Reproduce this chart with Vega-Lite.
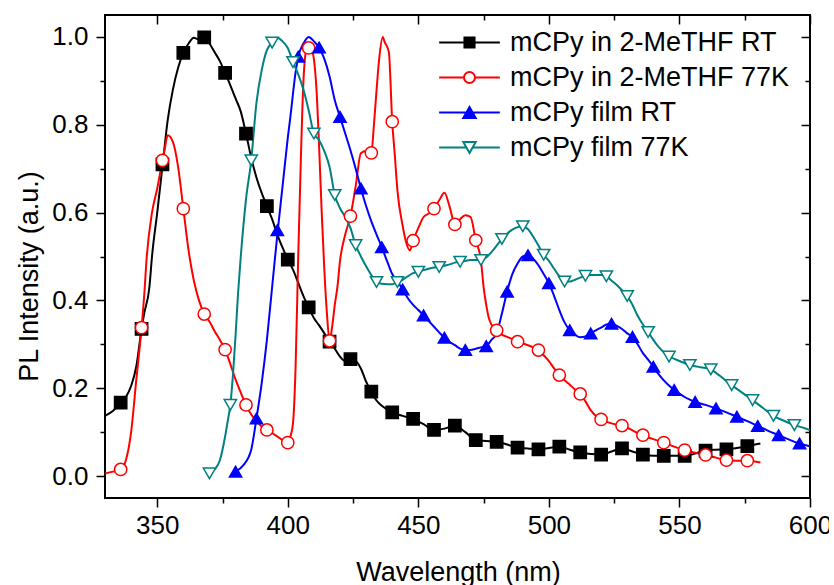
{
  "$schema": "https://vega.github.io/schema/vega-lite/v6.json",
  "width": 705,
  "height": 483,
  "autosize": {"type": "none"},
  "padding": {"left": 105, "top": 15, "right": 19, "bottom": 87},
  "background": "white",
  "datasets": {
    "curves": [
      {"series":"mCPy in 2-MeTHF RT","nm":330,"pl":0.137},{"series":"mCPy in 2-MeTHF RT","nm":333,"pl":0.148},{"series":"mCPy in 2-MeTHF RT","nm":336,"pl":0.167},{"series":"mCPy in 2-MeTHF RT","nm":338,"pl":0.18},{"series":"mCPy in 2-MeTHF RT","nm":340,"pl":0.205},{"series":"mCPy in 2-MeTHF RT","nm":342,"pl":0.25},{"series":"mCPy in 2-MeTHF RT","nm":344,"pl":0.335},{"series":"mCPy in 2-MeTHF RT","nm":345,"pl":0.37},{"series":"mCPy in 2-MeTHF RT","nm":347,"pl":0.43},{"series":"mCPy in 2-MeTHF RT","nm":348,"pl":0.5},{"series":"mCPy in 2-MeTHF RT","nm":350,"pl":0.6},{"series":"mCPy in 2-MeTHF RT","nm":352,"pl":0.705},{"series":"mCPy in 2-MeTHF RT","nm":354,"pl":0.81},{"series":"mCPy in 2-MeTHF RT","nm":356,"pl":0.88},{"series":"mCPy in 2-MeTHF RT","nm":358,"pl":0.93},{"series":"mCPy in 2-MeTHF RT","nm":360,"pl":0.964},{"series":"mCPy in 2-MeTHF RT","nm":362,"pl":0.985},{"series":"mCPy in 2-MeTHF RT","nm":364,"pl":0.998},{"series":"mCPy in 2-MeTHF RT","nm":366,"pl":0.994},{"series":"mCPy in 2-MeTHF RT","nm":368,"pl":0.999},{"series":"mCPy in 2-MeTHF RT","nm":370,"pl":0.985},{"series":"mCPy in 2-MeTHF RT","nm":372,"pl":0.965},{"series":"mCPy in 2-MeTHF RT","nm":374,"pl":0.945},{"series":"mCPy in 2-MeTHF RT","nm":376,"pl":0.918},{"series":"mCPy in 2-MeTHF RT","nm":378,"pl":0.89},{"series":"mCPy in 2-MeTHF RT","nm":380,"pl":0.86},{"series":"mCPy in 2-MeTHF RT","nm":382,"pl":0.83},{"series":"mCPy in 2-MeTHF RT","nm":384,"pl":0.78},{"series":"mCPy in 2-MeTHF RT","nm":386,"pl":0.725},{"series":"mCPy in 2-MeTHF RT","nm":388,"pl":0.68},{"series":"mCPy in 2-MeTHF RT","nm":390,"pl":0.645},{"series":"mCPy in 2-MeTHF RT","nm":392,"pl":0.615},{"series":"mCPy in 2-MeTHF RT","nm":394,"pl":0.585},{"series":"mCPy in 2-MeTHF RT","nm":396,"pl":0.55},{"series":"mCPy in 2-MeTHF RT","nm":398,"pl":0.52},{"series":"mCPy in 2-MeTHF RT","nm":400,"pl":0.493},{"series":"mCPy in 2-MeTHF RT","nm":402,"pl":0.47},{"series":"mCPy in 2-MeTHF RT","nm":404,"pl":0.44},{"series":"mCPy in 2-MeTHF RT","nm":406,"pl":0.41},{"series":"mCPy in 2-MeTHF RT","nm":408,"pl":0.384},{"series":"mCPy in 2-MeTHF RT","nm":410,"pl":0.36},{"series":"mCPy in 2-MeTHF RT","nm":412,"pl":0.343},{"series":"mCPy in 2-MeTHF RT","nm":414,"pl":0.325},{"series":"mCPy in 2-MeTHF RT","nm":416,"pl":0.306},{"series":"mCPy in 2-MeTHF RT","nm":418,"pl":0.29},{"series":"mCPy in 2-MeTHF RT","nm":420,"pl":0.272},{"series":"mCPy in 2-MeTHF RT","nm":422,"pl":0.262},{"series":"mCPy in 2-MeTHF RT","nm":424,"pl":0.266},{"series":"mCPy in 2-MeTHF RT","nm":426,"pl":0.262},{"series":"mCPy in 2-MeTHF RT","nm":428,"pl":0.245},{"series":"mCPy in 2-MeTHF RT","nm":430,"pl":0.215},{"series":"mCPy in 2-MeTHF RT","nm":432,"pl":0.192},{"series":"mCPy in 2-MeTHF RT","nm":434,"pl":0.172},{"series":"mCPy in 2-MeTHF RT","nm":436,"pl":0.16},{"series":"mCPy in 2-MeTHF RT","nm":438,"pl":0.152},{"series":"mCPy in 2-MeTHF RT","nm":440,"pl":0.145},{"series":"mCPy in 2-MeTHF RT","nm":444,"pl":0.137},{"series":"mCPy in 2-MeTHF RT","nm":448,"pl":0.13},{"series":"mCPy in 2-MeTHF RT","nm":452,"pl":0.118},{"series":"mCPy in 2-MeTHF RT","nm":456,"pl":0.105},{"series":"mCPy in 2-MeTHF RT","nm":460,"pl":0.108},{"series":"mCPy in 2-MeTHF RT","nm":464,"pl":0.115},{"series":"mCPy in 2-MeTHF RT","nm":468,"pl":0.1},{"series":"mCPy in 2-MeTHF RT","nm":472,"pl":0.082},{"series":"mCPy in 2-MeTHF RT","nm":476,"pl":0.08},{"series":"mCPy in 2-MeTHF RT","nm":480,"pl":0.078},{"series":"mCPy in 2-MeTHF RT","nm":484,"pl":0.072},{"series":"mCPy in 2-MeTHF RT","nm":488,"pl":0.065},{"series":"mCPy in 2-MeTHF RT","nm":492,"pl":0.063},{"series":"mCPy in 2-MeTHF RT","nm":496,"pl":0.061},{"series":"mCPy in 2-MeTHF RT","nm":500,"pl":0.064},{"series":"mCPy in 2-MeTHF RT","nm":504,"pl":0.067},{"series":"mCPy in 2-MeTHF RT","nm":508,"pl":0.06},{"series":"mCPy in 2-MeTHF RT","nm":512,"pl":0.054},{"series":"mCPy in 2-MeTHF RT","nm":516,"pl":0.05},{"series":"mCPy in 2-MeTHF RT","nm":520,"pl":0.049},{"series":"mCPy in 2-MeTHF RT","nm":524,"pl":0.056},{"series":"mCPy in 2-MeTHF RT","nm":528,"pl":0.063},{"series":"mCPy in 2-MeTHF RT","nm":532,"pl":0.056},{"series":"mCPy in 2-MeTHF RT","nm":536,"pl":0.049},{"series":"mCPy in 2-MeTHF RT","nm":540,"pl":0.046},{"series":"mCPy in 2-MeTHF RT","nm":544,"pl":0.046},{"series":"mCPy in 2-MeTHF RT","nm":548,"pl":0.046},{"series":"mCPy in 2-MeTHF RT","nm":552,"pl":0.046},{"series":"mCPy in 2-MeTHF RT","nm":556,"pl":0.051},{"series":"mCPy in 2-MeTHF RT","nm":560,"pl":0.058},{"series":"mCPy in 2-MeTHF RT","nm":564,"pl":0.06},{"series":"mCPy in 2-MeTHF RT","nm":568,"pl":0.061},{"series":"mCPy in 2-MeTHF RT","nm":572,"pl":0.064},{"series":"mCPy in 2-MeTHF RT","nm":576,"pl":0.068},{"series":"mCPy in 2-MeTHF RT","nm":581,"pl":0.074},

      {"series":"mCPy in 2-MeTHF 77K","nm":330,"pl":0.006},{"series":"mCPy in 2-MeTHF 77K","nm":333,"pl":0.01},{"series":"mCPy in 2-MeTHF 77K","nm":336,"pl":0.015},{"series":"mCPy in 2-MeTHF 77K","nm":338,"pl":0.036},{"series":"mCPy in 2-MeTHF 77K","nm":340,"pl":0.1},{"series":"mCPy in 2-MeTHF 77K","nm":342,"pl":0.22},{"series":"mCPy in 2-MeTHF 77K","nm":344,"pl":0.338},{"series":"mCPy in 2-MeTHF 77K","nm":345,"pl":0.41},{"series":"mCPy in 2-MeTHF 77K","nm":346,"pl":0.5},{"series":"mCPy in 2-MeTHF 77K","nm":348,"pl":0.6},{"series":"mCPy in 2-MeTHF 77K","nm":350,"pl":0.655},{"series":"mCPy in 2-MeTHF 77K","nm":352,"pl":0.719},{"series":"mCPy in 2-MeTHF 77K","nm":353,"pl":0.75},{"series":"mCPy in 2-MeTHF 77K","nm":354,"pl":0.776},{"series":"mCPy in 2-MeTHF 77K","nm":356,"pl":0.761},{"series":"mCPy in 2-MeTHF 77K","nm":358,"pl":0.704},{"series":"mCPy in 2-MeTHF 77K","nm":360,"pl":0.609},{"series":"mCPy in 2-MeTHF 77K","nm":362,"pl":0.514},{"series":"mCPy in 2-MeTHF 77K","nm":364,"pl":0.446},{"series":"mCPy in 2-MeTHF 77K","nm":366,"pl":0.4},{"series":"mCPy in 2-MeTHF 77K","nm":368,"pl":0.369},{"series":"mCPy in 2-MeTHF 77K","nm":370,"pl":0.352},{"series":"mCPy in 2-MeTHF 77K","nm":372,"pl":0.33},{"series":"mCPy in 2-MeTHF 77K","nm":374,"pl":0.31},{"series":"mCPy in 2-MeTHF 77K","nm":376,"pl":0.288},{"series":"mCPy in 2-MeTHF 77K","nm":378,"pl":0.255},{"series":"mCPy in 2-MeTHF 77K","nm":380,"pl":0.22},{"series":"mCPy in 2-MeTHF 77K","nm":382,"pl":0.19},{"series":"mCPy in 2-MeTHF 77K","nm":384,"pl":0.162},{"series":"mCPy in 2-MeTHF 77K","nm":386,"pl":0.14},{"series":"mCPy in 2-MeTHF 77K","nm":388,"pl":0.125},{"series":"mCPy in 2-MeTHF 77K","nm":390,"pl":0.113},{"series":"mCPy in 2-MeTHF 77K","nm":392,"pl":0.105},{"series":"mCPy in 2-MeTHF 77K","nm":394,"pl":0.098},{"series":"mCPy in 2-MeTHF 77K","nm":396,"pl":0.09},{"series":"mCPy in 2-MeTHF 77K","nm":398,"pl":0.082},{"series":"mCPy in 2-MeTHF 77K","nm":400,"pl":0.076},{"series":"mCPy in 2-MeTHF 77K","nm":401,"pl":0.09},{"series":"mCPy in 2-MeTHF 77K","nm":402,"pl":0.12},{"series":"mCPy in 2-MeTHF 77K","nm":403,"pl":0.25},{"series":"mCPy in 2-MeTHF 77K","nm":404,"pl":0.5},{"series":"mCPy in 2-MeTHF 77K","nm":405,"pl":0.72},{"series":"mCPy in 2-MeTHF 77K","nm":406,"pl":0.9},{"series":"mCPy in 2-MeTHF 77K","nm":407,"pl":0.97},{"series":"mCPy in 2-MeTHF 77K","nm":408,"pl":0.985},{"series":"mCPy in 2-MeTHF 77K","nm":409,"pl":0.975},{"series":"mCPy in 2-MeTHF 77K","nm":410,"pl":0.95},{"series":"mCPy in 2-MeTHF 77K","nm":411,"pl":0.88},{"series":"mCPy in 2-MeTHF 77K","nm":412,"pl":0.75},{"series":"mCPy in 2-MeTHF 77K","nm":413,"pl":0.6},{"series":"mCPy in 2-MeTHF 77K","nm":414,"pl":0.47},{"series":"mCPy in 2-MeTHF 77K","nm":415,"pl":0.37},{"series":"mCPy in 2-MeTHF 77K","nm":416,"pl":0.308},{"series":"mCPy in 2-MeTHF 77K","nm":417,"pl":0.34},{"series":"mCPy in 2-MeTHF 77K","nm":418,"pl":0.39},{"series":"mCPy in 2-MeTHF 77K","nm":419,"pl":0.43},{"series":"mCPy in 2-MeTHF 77K","nm":420,"pl":0.49},{"series":"mCPy in 2-MeTHF 77K","nm":422,"pl":0.55},{"series":"mCPy in 2-MeTHF 77K","nm":424,"pl":0.592},{"series":"mCPy in 2-MeTHF 77K","nm":426,"pl":0.66},{"series":"mCPy in 2-MeTHF 77K","nm":428,"pl":0.735},{"series":"mCPy in 2-MeTHF 77K","nm":430,"pl":0.74},{"series":"mCPy in 2-MeTHF 77K","nm":432,"pl":0.736},{"series":"mCPy in 2-MeTHF 77K","nm":433,"pl":0.8},{"series":"mCPy in 2-MeTHF 77K","nm":434,"pl":0.879},{"series":"mCPy in 2-MeTHF 77K","nm":435,"pl":0.95},{"series":"mCPy in 2-MeTHF 77K","nm":436.4,"pl":1.0},{"series":"mCPy in 2-MeTHF 77K","nm":437,"pl":0.99},{"series":"mCPy in 2-MeTHF 77K","nm":438.7,"pl":0.966},{"series":"mCPy in 2-MeTHF 77K","nm":440,"pl":0.807},{"series":"mCPy in 2-MeTHF 77K","nm":441,"pl":0.73},{"series":"mCPy in 2-MeTHF 77K","nm":442,"pl":0.65},{"series":"mCPy in 2-MeTHF 77K","nm":444,"pl":0.57},{"series":"mCPy in 2-MeTHF 77K","nm":445,"pl":0.54},{"series":"mCPy in 2-MeTHF 77K","nm":446.8,"pl":0.514},{"series":"mCPy in 2-MeTHF 77K","nm":448,"pl":0.536},{"series":"mCPy in 2-MeTHF 77K","nm":450,"pl":0.565},{"series":"mCPy in 2-MeTHF 77K","nm":452,"pl":0.59},{"series":"mCPy in 2-MeTHF 77K","nm":454,"pl":0.598},{"series":"mCPy in 2-MeTHF 77K","nm":456,"pl":0.609},{"series":"mCPy in 2-MeTHF 77K","nm":458,"pl":0.628},{"series":"mCPy in 2-MeTHF 77K","nm":460,"pl":0.645},{"series":"mCPy in 2-MeTHF 77K","nm":462,"pl":0.613},{"series":"mCPy in 2-MeTHF 77K","nm":464,"pl":0.573},{"series":"mCPy in 2-MeTHF 77K","nm":466,"pl":0.585},{"series":"mCPy in 2-MeTHF 77K","nm":468,"pl":0.594},{"series":"mCPy in 2-MeTHF 77K","nm":470,"pl":0.59},{"series":"mCPy in 2-MeTHF 77K","nm":472,"pl":0.537},{"series":"mCPy in 2-MeTHF 77K","nm":474,"pl":0.49},{"series":"mCPy in 2-MeTHF 77K","nm":475,"pl":0.43},{"series":"mCPy in 2-MeTHF 77K","nm":476,"pl":0.39},{"series":"mCPy in 2-MeTHF 77K","nm":477,"pl":0.36},{"series":"mCPy in 2-MeTHF 77K","nm":478,"pl":0.345},{"series":"mCPy in 2-MeTHF 77K","nm":480,"pl":0.332},{"series":"mCPy in 2-MeTHF 77K","nm":482,"pl":0.322},{"series":"mCPy in 2-MeTHF 77K","nm":484,"pl":0.317},{"series":"mCPy in 2-MeTHF 77K","nm":486,"pl":0.312},{"series":"mCPy in 2-MeTHF 77K","nm":488,"pl":0.306},{"series":"mCPy in 2-MeTHF 77K","nm":490,"pl":0.302},{"series":"mCPy in 2-MeTHF 77K","nm":492,"pl":0.298},{"series":"mCPy in 2-MeTHF 77K","nm":494,"pl":0.293},{"series":"mCPy in 2-MeTHF 77K","nm":496,"pl":0.287},{"series":"mCPy in 2-MeTHF 77K","nm":498,"pl":0.275},{"series":"mCPy in 2-MeTHF 77K","nm":500,"pl":0.262},{"series":"mCPy in 2-MeTHF 77K","nm":502,"pl":0.245},{"series":"mCPy in 2-MeTHF 77K","nm":504,"pl":0.23},{"series":"mCPy in 2-MeTHF 77K","nm":506,"pl":0.218},{"series":"mCPy in 2-MeTHF 77K","nm":508,"pl":0.208},{"series":"mCPy in 2-MeTHF 77K","nm":510,"pl":0.197},{"series":"mCPy in 2-MeTHF 77K","nm":512,"pl":0.187},{"series":"mCPy in 2-MeTHF 77K","nm":514,"pl":0.17},{"series":"mCPy in 2-MeTHF 77K","nm":516,"pl":0.15},{"series":"mCPy in 2-MeTHF 77K","nm":518,"pl":0.137},{"series":"mCPy in 2-MeTHF 77K","nm":520,"pl":0.129},{"series":"mCPy in 2-MeTHF 77K","nm":522,"pl":0.124},{"series":"mCPy in 2-MeTHF 77K","nm":524,"pl":0.12},{"series":"mCPy in 2-MeTHF 77K","nm":526,"pl":0.117},{"series":"mCPy in 2-MeTHF 77K","nm":528,"pl":0.115},{"series":"mCPy in 2-MeTHF 77K","nm":530,"pl":0.11},{"series":"mCPy in 2-MeTHF 77K","nm":532,"pl":0.104},{"series":"mCPy in 2-MeTHF 77K","nm":534,"pl":0.098},{"series":"mCPy in 2-MeTHF 77K","nm":536,"pl":0.093},{"series":"mCPy in 2-MeTHF 77K","nm":540,"pl":0.084},{"series":"mCPy in 2-MeTHF 77K","nm":544,"pl":0.076},{"series":"mCPy in 2-MeTHF 77K","nm":548,"pl":0.067},{"series":"mCPy in 2-MeTHF 77K","nm":552,"pl":0.059},{"series":"mCPy in 2-MeTHF 77K","nm":556,"pl":0.053},{"series":"mCPy in 2-MeTHF 77K","nm":560,"pl":0.048},{"series":"mCPy in 2-MeTHF 77K","nm":564,"pl":0.042},{"series":"mCPy in 2-MeTHF 77K","nm":568,"pl":0.036},{"series":"mCPy in 2-MeTHF 77K","nm":572,"pl":0.035},{"series":"mCPy in 2-MeTHF 77K","nm":576,"pl":0.035},{"series":"mCPy in 2-MeTHF 77K","nm":581,"pl":0.031},

      {"series":"mCPy film RT","nm":380,"pl":0.01},{"series":"mCPy film RT","nm":383,"pl":0.025},{"series":"mCPy film RT","nm":386,"pl":0.06},{"series":"mCPy film RT","nm":388,"pl":0.131},{"series":"mCPy film RT","nm":390,"pl":0.211},{"series":"mCPy film RT","nm":392,"pl":0.31},{"series":"mCPy film RT","nm":394,"pl":0.43},{"series":"mCPy film RT","nm":396,"pl":0.55},{"series":"mCPy film RT","nm":398,"pl":0.66},{"series":"mCPy film RT","nm":400,"pl":0.77},{"series":"mCPy film RT","nm":401,"pl":0.818},{"series":"mCPy film RT","nm":403,"pl":0.92},{"series":"mCPy film RT","nm":404,"pl":0.955},{"series":"mCPy film RT","nm":406,"pl":0.985},{"series":"mCPy film RT","nm":408,"pl":1.0},{"series":"mCPy film RT","nm":410,"pl":0.99},{"series":"mCPy film RT","nm":412,"pl":0.976},{"series":"mCPy film RT","nm":414,"pl":0.95},{"series":"mCPy film RT","nm":416,"pl":0.91},{"series":"mCPy film RT","nm":418,"pl":0.856},{"series":"mCPy film RT","nm":420,"pl":0.818},{"series":"mCPy film RT","nm":422,"pl":0.78},{"series":"mCPy film RT","nm":424,"pl":0.742},{"series":"mCPy film RT","nm":426,"pl":0.7},{"series":"mCPy film RT","nm":428,"pl":0.655},{"series":"mCPy film RT","nm":430,"pl":0.615},{"series":"mCPy film RT","nm":432,"pl":0.58},{"series":"mCPy film RT","nm":434,"pl":0.55},{"series":"mCPy film RT","nm":436,"pl":0.521},{"series":"mCPy film RT","nm":438,"pl":0.49},{"series":"mCPy film RT","nm":440,"pl":0.46},{"series":"mCPy film RT","nm":442,"pl":0.443},{"series":"mCPy film RT","nm":444,"pl":0.425},{"series":"mCPy film RT","nm":446,"pl":0.405},{"series":"mCPy film RT","nm":448,"pl":0.39},{"series":"mCPy film RT","nm":450,"pl":0.378},{"series":"mCPy film RT","nm":452,"pl":0.366},{"series":"mCPy film RT","nm":454,"pl":0.353},{"series":"mCPy film RT","nm":456,"pl":0.34},{"series":"mCPy film RT","nm":458,"pl":0.327},{"series":"mCPy film RT","nm":460,"pl":0.315},{"series":"mCPy film RT","nm":462,"pl":0.305},{"series":"mCPy film RT","nm":464,"pl":0.298},{"series":"mCPy film RT","nm":466,"pl":0.29},{"series":"mCPy film RT","nm":468,"pl":0.287},{"series":"mCPy film RT","nm":470,"pl":0.287},{"series":"mCPy film RT","nm":472,"pl":0.29},{"series":"mCPy film RT","nm":474,"pl":0.293},{"series":"mCPy film RT","nm":476,"pl":0.296},{"series":"mCPy film RT","nm":478,"pl":0.31},{"series":"mCPy film RT","nm":480,"pl":0.325},{"series":"mCPy film RT","nm":482,"pl":0.37},{"series":"mCPy film RT","nm":484,"pl":0.42},{"series":"mCPy film RT","nm":486,"pl":0.46},{"series":"mCPy film RT","nm":488,"pl":0.484},{"series":"mCPy film RT","nm":490,"pl":0.5},{"series":"mCPy film RT","nm":492,"pl":0.503},{"series":"mCPy film RT","nm":494,"pl":0.495},{"series":"mCPy film RT","nm":496,"pl":0.48},{"series":"mCPy film RT","nm":498,"pl":0.46},{"series":"mCPy film RT","nm":500,"pl":0.439},{"series":"mCPy film RT","nm":502,"pl":0.41},{"series":"mCPy film RT","nm":504,"pl":0.378},{"series":"mCPy film RT","nm":506,"pl":0.35},{"series":"mCPy film RT","nm":508,"pl":0.332},{"series":"mCPy film RT","nm":510,"pl":0.322},{"series":"mCPy film RT","nm":512,"pl":0.316},{"series":"mCPy film RT","nm":514,"pl":0.318},{"series":"mCPy film RT","nm":516,"pl":0.325},{"series":"mCPy film RT","nm":518,"pl":0.332},{"series":"mCPy film RT","nm":520,"pl":0.338},{"series":"mCPy film RT","nm":522,"pl":0.345},{"series":"mCPy film RT","nm":524,"pl":0.347},{"series":"mCPy film RT","nm":526,"pl":0.342},{"series":"mCPy film RT","nm":528,"pl":0.335},{"series":"mCPy film RT","nm":530,"pl":0.325},{"series":"mCPy film RT","nm":532,"pl":0.317},{"series":"mCPy film RT","nm":534,"pl":0.3},{"series":"mCPy film RT","nm":536,"pl":0.28},{"series":"mCPy film RT","nm":538,"pl":0.265},{"series":"mCPy film RT","nm":540,"pl":0.249},{"series":"mCPy film RT","nm":542,"pl":0.232},{"series":"mCPy film RT","nm":544,"pl":0.218},{"series":"mCPy film RT","nm":546,"pl":0.206},{"series":"mCPy film RT","nm":548,"pl":0.196},{"series":"mCPy film RT","nm":550,"pl":0.188},{"series":"mCPy film RT","nm":552,"pl":0.18},{"series":"mCPy film RT","nm":554,"pl":0.174},{"series":"mCPy film RT","nm":556,"pl":0.169},{"series":"mCPy film RT","nm":560,"pl":0.162},{"series":"mCPy film RT","nm":564,"pl":0.154},{"series":"mCPy film RT","nm":568,"pl":0.145},{"series":"mCPy film RT","nm":572,"pl":0.135},{"series":"mCPy film RT","nm":576,"pl":0.125},{"series":"mCPy film RT","nm":580,"pl":0.114},{"series":"mCPy film RT","nm":584,"pl":0.103},{"series":"mCPy film RT","nm":588,"pl":0.093},{"series":"mCPy film RT","nm":592,"pl":0.083},{"series":"mCPy film RT","nm":596,"pl":0.074},{"series":"mCPy film RT","nm":600,"pl":0.068},

      {"series":"mCPy film 77K","nm":370,"pl":0.006},{"series":"mCPy film 77K","nm":372,"pl":0.015},{"series":"mCPy film 77K","nm":374,"pl":0.036},{"series":"mCPy film 77K","nm":376,"pl":0.09},{"series":"mCPy film 77K","nm":377,"pl":0.125},{"series":"mCPy film 77K","nm":378,"pl":0.162},{"series":"mCPy film 77K","nm":379,"pl":0.23},{"series":"mCPy film 77K","nm":380,"pl":0.32},{"series":"mCPy film 77K","nm":381,"pl":0.42},{"series":"mCPy film 77K","nm":382,"pl":0.5},{"series":"mCPy film 77K","nm":384,"pl":0.63},{"series":"mCPy film 77K","nm":386,"pl":0.719},{"series":"mCPy film 77K","nm":388,"pl":0.85},{"series":"mCPy film 77K","nm":390,"pl":0.924},{"series":"mCPy film 77K","nm":392,"pl":0.97},{"series":"mCPy film 77K","nm":394,"pl":0.987},{"series":"mCPy film 77K","nm":396,"pl":0.998},{"series":"mCPy film 77K","nm":398,"pl":0.99},{"series":"mCPy film 77K","nm":400,"pl":0.975},{"series":"mCPy film 77K","nm":402,"pl":0.943},{"series":"mCPy film 77K","nm":404,"pl":0.915},{"series":"mCPy film 77K","nm":406,"pl":0.88},{"series":"mCPy film 77K","nm":408,"pl":0.833},{"series":"mCPy film 77K","nm":410,"pl":0.78},{"series":"mCPy film 77K","nm":412,"pl":0.765},{"series":"mCPy film 77K","nm":414,"pl":0.74},{"series":"mCPy film 77K","nm":416,"pl":0.704},{"series":"mCPy film 77K","nm":418,"pl":0.64},{"series":"mCPy film 77K","nm":420,"pl":0.61},{"series":"mCPy film 77K","nm":422,"pl":0.59},{"series":"mCPy film 77K","nm":424,"pl":0.565},{"series":"mCPy film 77K","nm":426,"pl":0.526},{"series":"mCPy film 77K","nm":428,"pl":0.5},{"series":"mCPy film 77K","nm":430,"pl":0.478},{"series":"mCPy film 77K","nm":432,"pl":0.458},{"series":"mCPy film 77K","nm":434,"pl":0.442},{"series":"mCPy film 77K","nm":436,"pl":0.438},{"series":"mCPy film 77K","nm":438,"pl":0.437},{"series":"mCPy film 77K","nm":440,"pl":0.437},{"series":"mCPy film 77K","nm":442,"pl":0.442},{"series":"mCPy film 77K","nm":444,"pl":0.447},{"series":"mCPy film 77K","nm":446,"pl":0.455},{"series":"mCPy film 77K","nm":448,"pl":0.462},{"series":"mCPy film 77K","nm":450,"pl":0.465},{"series":"mCPy film 77K","nm":452,"pl":0.469},{"series":"mCPy film 77K","nm":454,"pl":0.472},{"series":"mCPy film 77K","nm":456,"pl":0.475},{"series":"mCPy film 77K","nm":458,"pl":0.476},{"series":"mCPy film 77K","nm":460,"pl":0.479},{"series":"mCPy film 77K","nm":462,"pl":0.482},{"series":"mCPy film 77K","nm":464,"pl":0.486},{"series":"mCPy film 77K","nm":466,"pl":0.488},{"series":"mCPy film 77K","nm":468,"pl":0.49},{"series":"mCPy film 77K","nm":470,"pl":0.492},{"series":"mCPy film 77K","nm":472,"pl":0.492},{"series":"mCPy film 77K","nm":474,"pl":0.492},{"series":"mCPy film 77K","nm":476,"pl":0.498},{"series":"mCPy film 77K","nm":478,"pl":0.51},{"series":"mCPy film 77K","nm":480,"pl":0.525},{"series":"mCPy film 77K","nm":482,"pl":0.54},{"series":"mCPy film 77K","nm":484,"pl":0.552},{"series":"mCPy film 77K","nm":486,"pl":0.561},{"series":"mCPy film 77K","nm":488,"pl":0.567},{"series":"mCPy film 77K","nm":490,"pl":0.569},{"series":"mCPy film 77K","nm":492,"pl":0.562},{"series":"mCPy film 77K","nm":494,"pl":0.545},{"series":"mCPy film 77K","nm":496,"pl":0.525},{"series":"mCPy film 77K","nm":498,"pl":0.504},{"series":"mCPy film 77K","nm":500,"pl":0.49},{"series":"mCPy film 77K","nm":502,"pl":0.472},{"series":"mCPy film 77K","nm":504,"pl":0.455},{"series":"mCPy film 77K","nm":506,"pl":0.443},{"series":"mCPy film 77K","nm":508,"pl":0.443},{"series":"mCPy film 77K","nm":510,"pl":0.447},{"series":"mCPy film 77K","nm":512,"pl":0.452},{"series":"mCPy film 77K","nm":514,"pl":0.456},{"series":"mCPy film 77K","nm":516,"pl":0.458},{"series":"mCPy film 77K","nm":518,"pl":0.458},{"series":"mCPy film 77K","nm":520,"pl":0.458},{"series":"mCPy film 77K","nm":522,"pl":0.455},{"series":"mCPy film 77K","nm":524,"pl":0.445},{"series":"mCPy film 77K","nm":526,"pl":0.435},{"series":"mCPy film 77K","nm":528,"pl":0.423},{"series":"mCPy film 77K","nm":530,"pl":0.41},{"series":"mCPy film 77K","nm":532,"pl":0.39},{"series":"mCPy film 77K","nm":534,"pl":0.365},{"series":"mCPy film 77K","nm":536,"pl":0.345},{"series":"mCPy film 77K","nm":538,"pl":0.328},{"series":"mCPy film 77K","nm":540,"pl":0.31},{"series":"mCPy film 77K","nm":542,"pl":0.294},{"series":"mCPy film 77K","nm":544,"pl":0.282},{"series":"mCPy film 77K","nm":546,"pl":0.272},{"series":"mCPy film 77K","nm":548,"pl":0.267},{"series":"mCPy film 77K","nm":550,"pl":0.262},{"series":"mCPy film 77K","nm":552,"pl":0.257},{"series":"mCPy film 77K","nm":554,"pl":0.253},{"series":"mCPy film 77K","nm":556,"pl":0.25},{"series":"mCPy film 77K","nm":558,"pl":0.248},{"series":"mCPy film 77K","nm":560,"pl":0.246},{"series":"mCPy film 77K","nm":562,"pl":0.243},{"series":"mCPy film 77K","nm":564,"pl":0.235},{"series":"mCPy film 77K","nm":566,"pl":0.226},{"series":"mCPy film 77K","nm":568,"pl":0.216},{"series":"mCPy film 77K","nm":570,"pl":0.207},{"series":"mCPy film 77K","nm":574,"pl":0.19},{"series":"mCPy film 77K","nm":578,"pl":0.173},{"series":"mCPy film 77K","nm":582,"pl":0.155},{"series":"mCPy film 77K","nm":586,"pl":0.137},{"series":"mCPy film 77K","nm":590,"pl":0.126},{"series":"mCPy film 77K","nm":594,"pl":0.116},{"series":"mCPy film 77K","nm":598,"pl":0.109},{"series":"mCPy film 77K","nm":600,"pl":0.105}
    ],
    "markers": [
      {"series":"mCPy in 2-MeTHF RT","nm":336,"pl":0.167},{"series":"mCPy in 2-MeTHF RT","nm":344,"pl":0.335},{"series":"mCPy in 2-MeTHF RT","nm":352,"pl":0.71},{"series":"mCPy in 2-MeTHF RT","nm":360,"pl":0.964},{"series":"mCPy in 2-MeTHF RT","nm":368,"pl":0.999},{"series":"mCPy in 2-MeTHF RT","nm":376,"pl":0.918},{"series":"mCPy in 2-MeTHF RT","nm":384,"pl":0.78},{"series":"mCPy in 2-MeTHF RT","nm":392,"pl":0.615},{"series":"mCPy in 2-MeTHF RT","nm":400,"pl":0.493},{"series":"mCPy in 2-MeTHF RT","nm":408,"pl":0.384},{"series":"mCPy in 2-MeTHF RT","nm":416,"pl":0.306},{"series":"mCPy in 2-MeTHF RT","nm":424,"pl":0.266},{"series":"mCPy in 2-MeTHF RT","nm":432,"pl":0.192},{"series":"mCPy in 2-MeTHF RT","nm":440,"pl":0.145},{"series":"mCPy in 2-MeTHF RT","nm":448,"pl":0.13},{"series":"mCPy in 2-MeTHF RT","nm":456,"pl":0.105},{"series":"mCPy in 2-MeTHF RT","nm":464,"pl":0.115},{"series":"mCPy in 2-MeTHF RT","nm":472,"pl":0.082},{"series":"mCPy in 2-MeTHF RT","nm":480,"pl":0.078},{"series":"mCPy in 2-MeTHF RT","nm":488,"pl":0.065},{"series":"mCPy in 2-MeTHF RT","nm":496,"pl":0.061},{"series":"mCPy in 2-MeTHF RT","nm":504,"pl":0.067},{"series":"mCPy in 2-MeTHF RT","nm":512,"pl":0.054},{"series":"mCPy in 2-MeTHF RT","nm":520,"pl":0.049},{"series":"mCPy in 2-MeTHF RT","nm":528,"pl":0.063},{"series":"mCPy in 2-MeTHF RT","nm":536,"pl":0.049},{"series":"mCPy in 2-MeTHF RT","nm":544,"pl":0.046},{"series":"mCPy in 2-MeTHF RT","nm":552,"pl":0.046},{"series":"mCPy in 2-MeTHF RT","nm":560,"pl":0.058},{"series":"mCPy in 2-MeTHF RT","nm":568,"pl":0.061},{"series":"mCPy in 2-MeTHF RT","nm":576,"pl":0.068},

      {"series":"mCPy in 2-MeTHF 77K","nm":336,"pl":0.015},{"series":"mCPy in 2-MeTHF 77K","nm":344,"pl":0.338},{"series":"mCPy in 2-MeTHF 77K","nm":352,"pl":0.719},{"series":"mCPy in 2-MeTHF 77K","nm":360,"pl":0.609},{"series":"mCPy in 2-MeTHF 77K","nm":368,"pl":0.369},{"series":"mCPy in 2-MeTHF 77K","nm":376,"pl":0.288},{"series":"mCPy in 2-MeTHF 77K","nm":384,"pl":0.162},{"series":"mCPy in 2-MeTHF 77K","nm":392,"pl":0.105},{"series":"mCPy in 2-MeTHF 77K","nm":400,"pl":0.076},{"series":"mCPy in 2-MeTHF 77K","nm":408,"pl":0.975},{"series":"mCPy in 2-MeTHF 77K","nm":416,"pl":0.308},{"series":"mCPy in 2-MeTHF 77K","nm":424,"pl":0.592},{"series":"mCPy in 2-MeTHF 77K","nm":432,"pl":0.736},{"series":"mCPy in 2-MeTHF 77K","nm":440,"pl":0.807},{"series":"mCPy in 2-MeTHF 77K","nm":448,"pl":0.536},{"series":"mCPy in 2-MeTHF 77K","nm":456,"pl":0.609},{"series":"mCPy in 2-MeTHF 77K","nm":464,"pl":0.573},{"series":"mCPy in 2-MeTHF 77K","nm":472,"pl":0.537},{"series":"mCPy in 2-MeTHF 77K","nm":480,"pl":0.332},{"series":"mCPy in 2-MeTHF 77K","nm":488,"pl":0.306},{"series":"mCPy in 2-MeTHF 77K","nm":496,"pl":0.287},{"series":"mCPy in 2-MeTHF 77K","nm":504,"pl":0.23},{"series":"mCPy in 2-MeTHF 77K","nm":512,"pl":0.187},{"series":"mCPy in 2-MeTHF 77K","nm":520,"pl":0.129},{"series":"mCPy in 2-MeTHF 77K","nm":528,"pl":0.115},{"series":"mCPy in 2-MeTHF 77K","nm":536,"pl":0.093},{"series":"mCPy in 2-MeTHF 77K","nm":544,"pl":0.076},{"series":"mCPy in 2-MeTHF 77K","nm":552,"pl":0.059},{"series":"mCPy in 2-MeTHF 77K","nm":560,"pl":0.048},{"series":"mCPy in 2-MeTHF 77K","nm":568,"pl":0.036},{"series":"mCPy in 2-MeTHF 77K","nm":576,"pl":0.035},

      {"series":"mCPy film RT","nm":380,"pl":0.01},{"series":"mCPy film RT","nm":388,"pl":0.131},{"series":"mCPy film RT","nm":396,"pl":0.56},{"series":"mCPy film RT","nm":404,"pl":0.955},{"series":"mCPy film RT","nm":412,"pl":0.976},{"series":"mCPy film RT","nm":420,"pl":0.818},{"series":"mCPy film RT","nm":428,"pl":0.655},{"series":"mCPy film RT","nm":436,"pl":0.521},{"series":"mCPy film RT","nm":444,"pl":0.425},{"series":"mCPy film RT","nm":452,"pl":0.366},{"series":"mCPy film RT","nm":460,"pl":0.315},{"series":"mCPy film RT","nm":468,"pl":0.287},{"series":"mCPy film RT","nm":476,"pl":0.296},{"series":"mCPy film RT","nm":484,"pl":0.42},{"series":"mCPy film RT","nm":492,"pl":0.503},{"series":"mCPy film RT","nm":500,"pl":0.439},{"series":"mCPy film RT","nm":508,"pl":0.332},{"series":"mCPy film RT","nm":516,"pl":0.325},{"series":"mCPy film RT","nm":524,"pl":0.347},{"series":"mCPy film RT","nm":532,"pl":0.317},{"series":"mCPy film RT","nm":540,"pl":0.249},{"series":"mCPy film RT","nm":548,"pl":0.196},{"series":"mCPy film RT","nm":556,"pl":0.169},{"series":"mCPy film RT","nm":564,"pl":0.154},{"series":"mCPy film RT","nm":572,"pl":0.135},{"series":"mCPy film RT","nm":580,"pl":0.114},{"series":"mCPy film RT","nm":588,"pl":0.093},{"series":"mCPy film RT","nm":596,"pl":0.074},

      {"series":"mCPy film 77K","nm":370,"pl":0.006},{"series":"mCPy film 77K","nm":378,"pl":0.162},{"series":"mCPy film 77K","nm":386,"pl":0.719},{"series":"mCPy film 77K","nm":394,"pl":0.987},{"series":"mCPy film 77K","nm":402,"pl":0.943},{"series":"mCPy film 77K","nm":410,"pl":0.78},{"series":"mCPy film 77K","nm":418,"pl":0.64},{"series":"mCPy film 77K","nm":426,"pl":0.526},{"series":"mCPy film 77K","nm":434,"pl":0.442},{"series":"mCPy film 77K","nm":442,"pl":0.442},{"series":"mCPy film 77K","nm":450,"pl":0.465},{"series":"mCPy film 77K","nm":458,"pl":0.476},{"series":"mCPy film 77K","nm":466,"pl":0.488},{"series":"mCPy film 77K","nm":474,"pl":0.492},{"series":"mCPy film 77K","nm":482,"pl":0.54},{"series":"mCPy film 77K","nm":490,"pl":0.569},{"series":"mCPy film 77K","nm":498,"pl":0.504},{"series":"mCPy film 77K","nm":506,"pl":0.443},{"series":"mCPy film 77K","nm":514,"pl":0.456},{"series":"mCPy film 77K","nm":522,"pl":0.455},{"series":"mCPy film 77K","nm":530,"pl":0.41},{"series":"mCPy film 77K","nm":538,"pl":0.328},{"series":"mCPy film 77K","nm":546,"pl":0.272},{"series":"mCPy film 77K","nm":554,"pl":0.253},{"series":"mCPy film 77K","nm":562,"pl":0.243},{"series":"mCPy film 77K","nm":570,"pl":0.207},{"series":"mCPy film 77K","nm":578,"pl":0.173},{"series":"mCPy film 77K","nm":586,"pl":0.137},{"series":"mCPy film 77K","nm":594,"pl":0.116}
    ]
  },
  "resolve": {"scale": {"shape": "independent", "stroke": "independent", "fill": "independent"}, "axis": {"x": "independent", "y": "independent"}},
  "layer": [
    {
      "data": {"name": "curves"},
      "mark": {"type": "line", "interpolate": "monotone", "strokeWidth": 2, "clip": true},
      "encoding": {
        "x": {"field": "nm", "type": "quantitative", "scale": {"domain": [330, 600], "nice": false, "zero": false},
              "axis": {"orient": "bottom", "values": [350, 400, 450, 500, 550, 600], "format": "d", "tickSize": 9, "labelPadding": 5, "labelFlush": false, "labelOverlap": false,
                       "title": "Wavelength (nm)", "titleBaseline": "alphabetic", "titleAlign": "center", "titleX": 353, "titleY": 82}},
        "y": {"field": "pl", "type": "quantitative", "scale": {"domain": [-0.05, 1.05], "nice": false, "zero": false},
              "axis": {"orient": "left", "values": [0, 0.2, 0.4, 0.6, 0.8, 1.0], "format": ".1f", "tickSize": 9, "labelPadding": 8, "labelFlush": false, "labelOverlap": false,
                       "title": "PL Intensity (a.u.)", "titleAngle": 270, "titleBaseline": "middle", "titleAlign": "center", "titleX": -76, "titleY": 261}},
        "stroke": {"field": "series", "type": "nominal",
                   "scale": {"domain": ["mCPy in 2-MeTHF RT", "mCPy in 2-MeTHF 77K", "mCPy film RT", "mCPy film 77K"], "range": ["#000000", "#ff0000", "#0000ff", "#008080"]},
                   "legend": null}
      }
    },
    {
      "data": {"name": "markers"},
      "mark": {"type": "point", "size": 150, "strokeWidth": 1.5, "opacity": 1},
      "encoding": {
        "x": {"field": "nm", "type": "quantitative", "scale": {"domain": [330, 600], "nice": false, "zero": false},
              "axis": {"orient": "top", "values": [350, 400, 450, 500, 550, 600], "labels": false, "tickSize": -9, "title": null}},
        "y": {"field": "pl", "type": "quantitative", "scale": {"domain": [-0.05, 1.05], "nice": false, "zero": false},
              "axis": {"orient": "right", "values": [0, 0.2, 0.4, 0.6, 0.8, 1.0], "labels": false, "tickSize": -9, "title": null}},
        "stroke": {"field": "series", "type": "nominal",
                   "scale": {"domain": ["mCPy in 2-MeTHF RT", "mCPy in 2-MeTHF 77K", "mCPy film RT", "mCPy film 77K"], "range": ["#000000", "#ff0000", "#0000ff", "#008080"]},
                   "legend": null},
        "fill": {"field": "series", "type": "nominal",
                 "scale": {"domain": ["mCPy in 2-MeTHF RT", "mCPy in 2-MeTHF 77K", "mCPy film RT", "mCPy film 77K"], "range": ["#000000", "#ffffff", "#0000ff", "#ffffff"]},
                 "legend": null},
        "shape": {"field": "series", "type": "nominal",
                  "scale": {"domain": ["mCPy in 2-MeTHF RT", "mCPy in 2-MeTHF 77K", "mCPy film RT", "mCPy film 77K"], "range": ["square", "circle", "triangle-up", "triangle-down"]},
                  "legend": null}
      }
    },
    {
      "data": {"name": "markers"},
      "mark": {"type": "point", "opacity": 0},
      "encoding": {
        "x": {"field": "nm", "type": "quantitative", "scale": {"domain": [330, 600], "nice": false, "zero": false},
              "axis": {"orient": "bottom", "values": [375, 425, 475, 525, 575], "labels": false, "tickSize": 5, "title": null}},
        "y": {"field": "pl", "type": "quantitative", "scale": {"domain": [-0.05, 1.05], "nice": false, "zero": false},
              "axis": {"orient": "left", "values": [0.1, 0.3, 0.5, 0.7, 0.9], "labels": false, "tickSize": 5, "title": null}},
        "shape": {"field": "series", "type": "nominal",
                  "scale": {"domain": ["mCPy in 2-MeTHF RT", "mCPy in 2-MeTHF 77K", "mCPy film RT", "mCPy film 77K"],
                            "range": ["M-4.8,0H4.8M-0.8,-0.8H0.8V0.8H-0.8Z",
                                      "M-4.8,0H-0.87M0.87,0H4.8M0.87,0A0.87,0.87,0,1,1,-0.87,0A0.87,0.87,0,1,1,0.87,0Z",
                                      "M-4.8,0H4.8M0,-0.85L0.98,0.85L-0.98,0.85Z",
                                      "M-4.8,0H-0.49M0.49,0H4.8M0,0.85L0.98,-0.85L-0.98,-0.85Z"]},
                  "legend": {"title": null, "orient": "none", "legendX": 351, "legendY": 14, "padding": 0,
                             "symbolSize": 160, "labelOffset": 27, "rowPadding": 7, "labelLimit": 0,
                             "symbolOpacity": 1, "symbolStrokeWidth": 2,
                             "labelFont": "Liberation Sans", "labelFontSize": 27, "labelColor": "#000000"}},
        "stroke": {"field": "series", "type": "nominal",
                   "scale": {"domain": ["mCPy in 2-MeTHF RT", "mCPy in 2-MeTHF 77K", "mCPy film RT", "mCPy film 77K"], "range": ["#000000", "#ff0000", "#0000ff", "#008080"]},
                   "legend": {"title": null, "orient": "none", "legendX": 351, "legendY": 14, "padding": 0,
                             "symbolSize": 160, "labelOffset": 27, "rowPadding": 7, "labelLimit": 0,
                             "symbolOpacity": 1, "symbolStrokeWidth": 2,
                             "labelFont": "Liberation Sans", "labelFontSize": 27, "labelColor": "#000000"}},
        "fill": {"field": "series", "type": "nominal",
                 "scale": {"domain": ["mCPy in 2-MeTHF RT", "mCPy in 2-MeTHF 77K", "mCPy film RT", "mCPy film 77K"], "range": ["#000000", "#ffffff", "#0000ff", "#ffffff"]},
                 "legend": {"title": null, "orient": "none", "legendX": 351, "legendY": 14, "padding": 0,
                             "symbolSize": 160, "labelOffset": 27, "rowPadding": 7, "labelLimit": 0,
                             "symbolOpacity": 1, "symbolStrokeWidth": 2,
                             "labelFont": "Liberation Sans", "labelFontSize": 27, "labelColor": "#000000"}}
      }
    },
    {
      "data": {"name": "markers"},
      "mark": {"type": "point", "opacity": 0},
      "encoding": {
        "x": {"field": "nm", "type": "quantitative", "scale": {"domain": [330, 600], "nice": false, "zero": false},
              "axis": {"orient": "top", "values": [375, 425, 475, 525, 575], "labels": false, "tickSize": -5, "title": null}},
        "y": {"field": "pl", "type": "quantitative", "scale": {"domain": [-0.05, 1.05], "nice": false, "zero": false},
              "axis": {"orient": "right", "values": [0.1, 0.3, 0.5, 0.7, 0.9], "labels": false, "tickSize": -5, "title": null}}
      }
    }
  ],
  "config": {
    "view": {"stroke": "#000000", "strokeWidth": 2},
    "axis": {"grid": false, "domain": false, "ticks": true, "tickColor": "#000000", "tickWidth": 1.5,
             "labelFont": "Liberation Sans", "labelFontSize": 26, "labelColor": "#000000",
             "titleFont": "Liberation Sans", "titleFontSize": 27, "titleColor": "#000000", "titleFontWeight": "normal"},
    "legend": {"labelFont": "Liberation Sans", "labelFontSize": 27, "labelColor": "#000000"}
  }
}
